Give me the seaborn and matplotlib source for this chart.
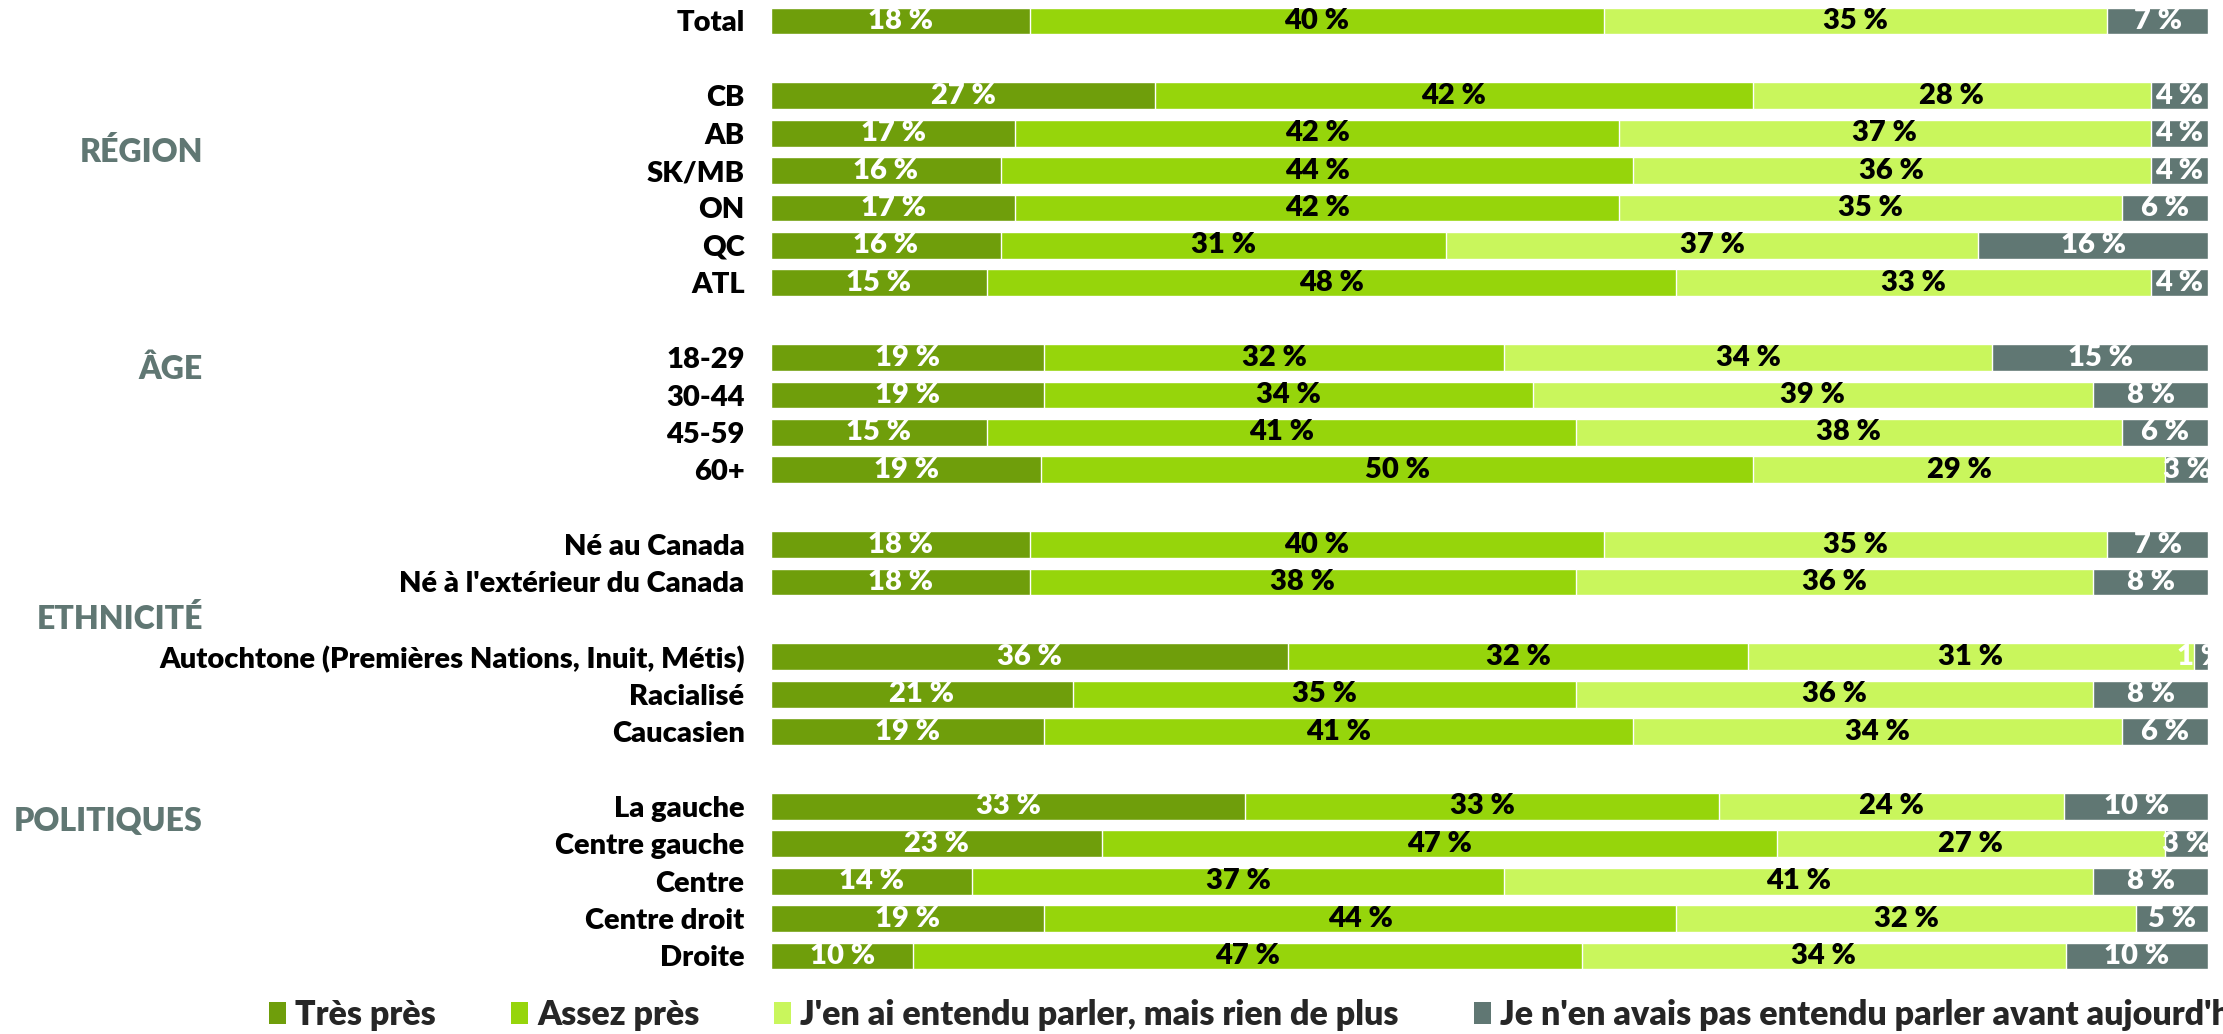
import numpy as np
import pandas as pd
import seaborn as sns
from matplotlib import pyplot as plt
from matplotlib.patches import Patch
from matplotlib.transforms import blended_transform_factory

# Data
categories = ["Total",
              "CB", "AB", "SK/MB", "ON", "QC", "ATL",
              "18-29", "30-44", "45-59", "60+",
              "Né au Canada", "Né à l'extérieur du Canada",
              "Autochtone (Premières Nations, Inuit, Métis)", "Racialisé", "Caucasien",
              "La gauche", "Centre gauche", "Centre", "Centre droit", "Droite"]
tres_pres = [18, 27, 17, 16, 17, 16, 15, 19, 19, 15, 19, 18, 18, 36, 21, 19, 33, 23, 14, 19, 10]
assez_pres = [40, 42, 42, 44, 42, 31, 48, 32, 34, 41, 50, 40, 38, 32, 35, 41, 33, 47, 37, 44, 47]
entendu = [35, 28, 37, 36, 35, 37, 33, 34, 39, 38, 29, 35, 36, 31, 36, 34, 24, 27, 41, 32, 34]
jamais = [7, 4, 4, 4, 6, 16, 4, 15, 8, 6, 3, 7, 8, 1, 8, 6, 10, 3, 8, 5, 10]
series_names = ["Très près", "Assez près", "J'en ai entendu parler, mais rien de plus",
                "Je n'en avais pas entendu parler avant aujourd'hui"]
groups = ["RÉGION", "ÂGE", "ETHNICITÉ", "POLITIQUES"]

# layout: row slots (blank slot between groups)
rows = [0, 2, 3, 4, 5, 6, 7, 9, 10, 11, 12, 14, 15, 17, 18, 19, 21, 22, 23, 24, 25]
group_rows = [3.5, 9.3, 16.0, 21.4]

colors = ["#6f9e0b", "#96d50b", "#c9f65c", "#607773"]
text_colors = ["white", "black", "black", "white"]
group_color = "#607773"

sns.set_theme(style="white")
plt.rcParams["font.family"] = ["Lato", "DejaVu Sans"]

vals = np.array([tres_pres, assez_pres, entendu, jamais], dtype=float).T
shares = vals / vals.sum(axis=1, keepdims=True) * 100
cum = shares.cumsum(axis=1)
df = pd.DataFrame(cum, columns=series_names)
df["row"] = rows

fig = plt.figure(figsize=(22.23, 10.34), dpi=100)
ax = fig.add_axes([771 / 2223, 1 - 974.7 / 1034, (2208 - 771) / 2223, (974.7 - 2.3) / 1034])

# stacked bars: draw cumulative totals from the widest down
for name, color in reversed(list(zip(series_names, colors))):
    sns.barplot(data=df, x=name, y="row", orient="h", native_scale=True, color=color,
                saturation=1, width=0.72, errorbar=None, ax=ax)

for i, r in enumerate(rows):
    left = 0
    for j in range(4):
        w = shares[i, j]
        ax.text(left + w / 2, r, f"{vals[i, j]:.0f} %", ha="center", va="center",
                color=text_colors[j], fontsize=21, fontweight="heavy", clip_on=True)
        left += w

ax.set_xlim(0, 100)
ax.set_ylim(25.5, -0.5)
ax.set_yticks(rows)
ax.set_yticklabels(categories, fontsize=21, fontweight="heavy", color="black")
ax.tick_params(axis="y", length=0, pad=19)
ax.set_xticks([])
ax.set_xlabel("")
ax.set_ylabel("")
sns.despine(ax=ax, left=True, bottom=True)

trans = blended_transform_factory(fig.transFigure, ax.transData)
for g, gr in zip(groups, group_rows):
    ax.text(203 / 2223, gr, g, transform=trans, ha="right", va="center",
            fontsize=23, fontweight="heavy", color=group_color)

handles = [Patch(facecolor=c, edgecolor="none") for c in colors]
fig.legend(handles, series_names, loc="center left", bbox_to_anchor=(269 / 2223, 1 - 1015 / 1034),
           ncol=4, frameon=False, prop={"size": 24.5, "weight": "heavy"},
           handlelength=0.5, handleheight=0.6, handletextpad=0.27, columnspacing=2.2,
           borderaxespad=0, borderpad=0)

fig.savefig("out.png", dpi=100)
